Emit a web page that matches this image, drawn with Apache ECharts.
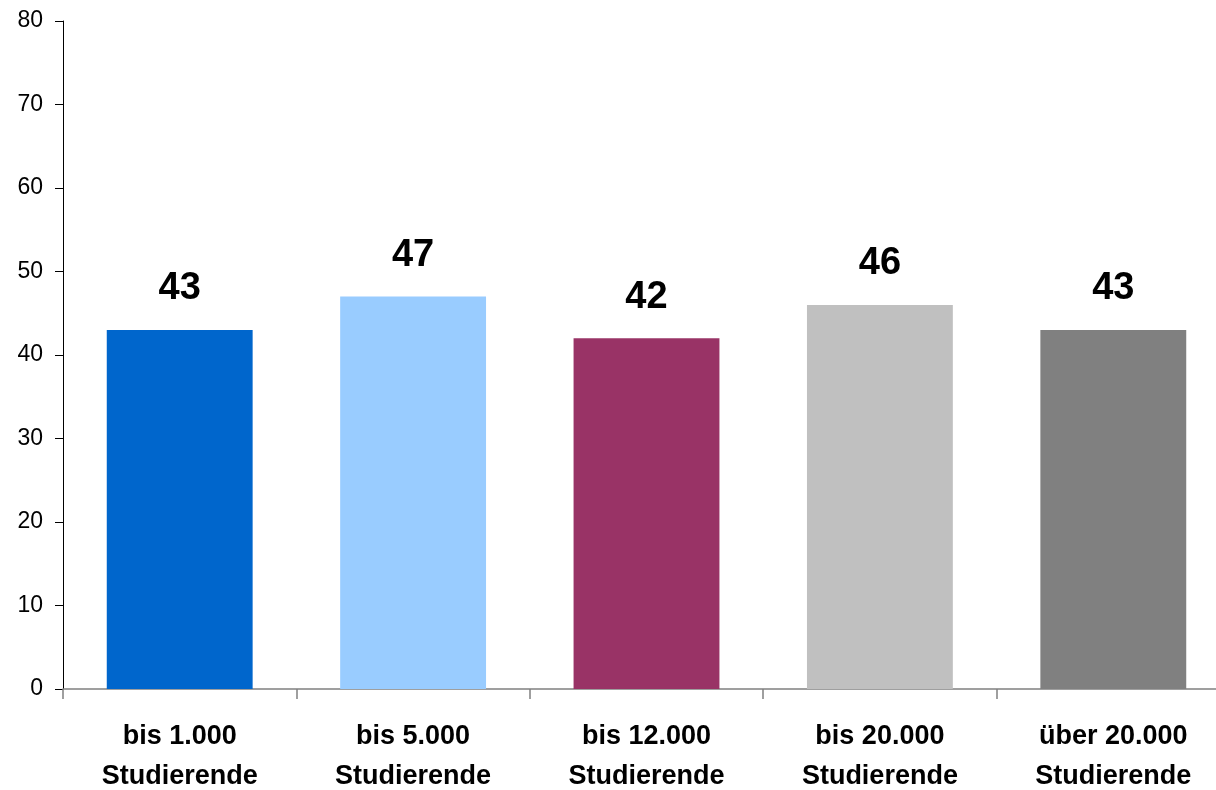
<!DOCTYPE html>
<html>
<head>
<meta charset="utf-8">
<script src="https://cdn.jsdelivr.net/npm/echarts@6/dist/echarts.min.js"></script>
<style>html,body{margin:0;padding:0;background:#fff;overflow:hidden}#c{width:1216px;height:790px}</style>
</head>
<body>
<div id="c"></div>
<script>
const categories = ['bis 1.000\nStudierende', 'bis 5.000\nStudierende', 'bis 12.000\nStudierende', 'bis 20.000\nStudierende', 'über 20.000\nStudierende'];
const values = [43, 47, 42, 46, 43];
const barColors = ['#0066CC', '#99CCFF', '#993366', '#C0C0C0', '#808080'];
const yMin = 0, yMax = 80, yStep = 10;

const chart = echarts.init(document.getElementById('c'));
chart.setOption({
  animation: false,
  grid: { left: 63, top: 21, width: 1167, height: 668, containLabel: false, outerBoundsMode: 'none' },
  xAxis: {
    type: 'category',
    data: categories,
    axisLine: { lineStyle: { color: '#808080', width: 1.5 } },
    axisTick: { show: true, length: 10, lineStyle: { color: '#808080', width: 1.5 } },
    axisLabel: {
      margin: 28, color: '#000', fontFamily: 'Liberation Sans, Arial, sans-serif',
      fontWeight: 'bold', fontSize: 27, lineHeight: 40, interval: 0
    }
  },
  yAxis: {
    type: 'value', min: yMin, max: yMax, interval: yStep,
    axisLine: { show: true, lineStyle: { color: '#000', width: 1 } },
    axisTick: { show: true, length: 8, lineStyle: { color: '#000' } },
    splitLine: { show: false },
    axisLabel: { margin: 20, color: '#000', fontFamily: 'Liberation Sans, Arial, sans-serif', fontSize: 23 }
  },
  series: [{
    type: 'bar',
    data: values.map((v, i) => ({ value: v, itemStyle: { color: barColors[i] } })),
    barCategoryGap: '37.5%',
    label: {
      show: true, position: 'top', distance: 22, color: '#000',
      fontFamily: 'Liberation Sans, Arial, sans-serif', fontWeight: 'bold', fontSize: 38
    }
  }]
});
</script>
</body>
</html>
